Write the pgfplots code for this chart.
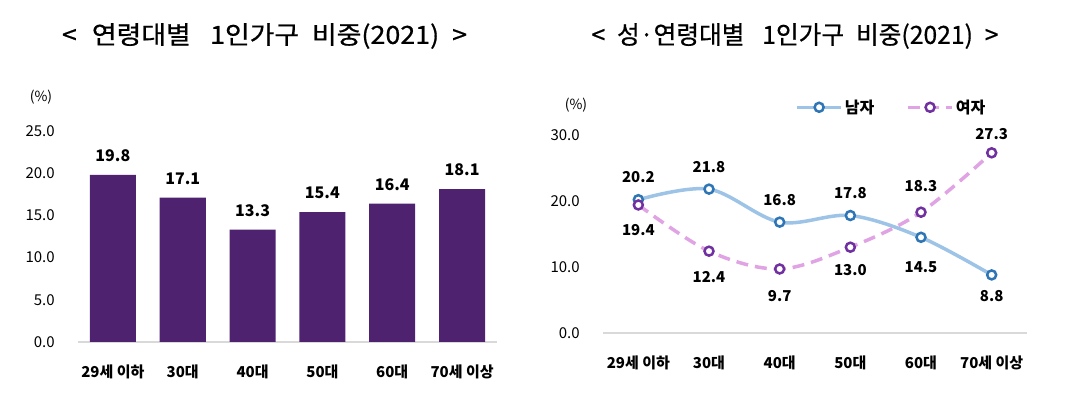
\documentclass[border=0pt]{standalone}
\usepackage{pgfplots}
\pgfplotsset{compat=1.18}
\usepackage{graphicx}
\usepackage{fontspec}
\setmainfont{Noto Sans CJK KR}
\newfontfamily\titlefont[FakeBold=0.6]{Noto Sans CJK KR}
\definecolor{barc}{HTML}{4F2270}
\definecolor{malel}{HTML}{9DC3E6}
\definecolor{malem}{HTML}{2E75B6}
\definecolor{femal}{HTML}{E0A3E3}
\definecolor{femam}{HTML}{7030A0}
\definecolor{axgray}{HTML}{D9D9D9}
\pgfplotsset{
  common/.style={
    scale only axis, anchor=south west, clip=false,
    axis x line=bottom, axis y line=left,
    y axis line style={draw=none},
    x axis line style={-, draw=axgray, line width=1.2pt},
    tick style={draw=none},
    xmin=-0.5, xmax=5.5, ymin=0,
    xtick={0,...,5},
    xticklabels={29세 이하,30대,40대,50대,60대,70세 이상},
    xticklabel style={font=\fontsize{15}{18}\selectfont\bfseries, anchor=base, yshift=-33pt},
    yticklabel style={font=\fontsize{15}{18}\selectfont, anchor=east, inner sep=0pt, xshift=-21pt},
    /pgf/number format/assume math mode=true,
    yticklabel={\pgfmathprintnumber[fixed, fixed zerofill, precision=1]{\tick}},
  }
}
\newcommand{\tfont}{\titlefont\fontsize{25}{29}\selectfont}
\begin{document}
\begin{tikzpicture}
\useasboundingbox (0,0) rectangle (1067pt,395pt);
\node[inner sep=0pt] at (264.5pt,359pt) {\resizebox{405pt}{\height}{\tfont <\hspace{14pt}연령대별\hspace{18pt}1인가구\hspace{12pt}비중(2021)\hspace{12pt}>}};
\node[inner sep=0pt] at (795pt,359pt) {\resizebox{407pt}{\height}{\tfont <\hspace{12pt}성·연령대별\hspace{18pt}1인가구\hspace{12pt}비중(2021)\hspace{12pt}>}};
\node[font=\fontsize{14}{16}\selectfont] at (41pt,298pt) {(\%)};
\node[font=\fontsize{14}{16}\selectfont] at (576pt,290pt) {(\%)};

\begin{axis}[common, at={(78pt,53pt)}, width=419pt, height=211pt,
  ymax=25, ytick={0,5,...,25}]
\addplot[ybar, bar width=46pt, fill=barc, draw=none,
  nodes near coords,
  nodes near coords style={font=\fontsize{16}{18}\selectfont\bfseries, anchor=south, inner sep=0pt, yshift=13pt, text=black,
    /pgf/number format/.cd, fixed, fixed zerofill, precision=1, assume math mode=true}]
  coordinates {(0,19.8) (1,17.1) (2,13.3) (3,15.4) (4,16.4) (5,18.1)};
\end{axis}

\begin{axis}[common, at={(603pt,62pt)}, width=424pt, height=198pt,
  ymax=30, ytick={0,10,20,30},
  legend style={at={(0.68,1.14)}, anchor=center, draw=none, fill=none,
    legend columns=2, font=\fontsize{16}{18}\selectfont\bfseries,
    /tikz/every even column/.append style={column sep=30pt}},
  legend image code/.code={\draw[#1, mark repeat=2, mark phase=2] plot coordinates {(0pt,0pt) (22pt,0pt) (44pt,0pt)};}
  ]
\addplot[smooth, tension=0.55, color=malel, line width=3.5pt,
  mark=*, mark size=4.5pt, mark options={solid, fill=white, draw=malem, line width=2.5pt},
  visualization depends on={value \thisrow{s} \as \lshift},
  nodes near coords,
  nodes near coords style={font=\fontsize{15}{18}\selectfont\bfseries, anchor=center, yshift=\lshift pt, text=black,
    /pgf/number format/.cd, fixed, fixed zerofill, precision=1, assume math mode=true}]
  table {
x y s
0 20.2 23
1 21.8 22
2 16.8 22
3 17.8 22
4 14.5 -30
5 8.8 -21
};
\addlegendentry{남자}
\addplot[smooth, tension=0.55, color=femal, line width=3.5pt, dash pattern=on 12pt off 7pt,
  mark=*, mark size=4.5pt, mark options={solid, fill=white, draw=femam, line width=2.5pt},
  visualization depends on={value \thisrow{s} \as \lshift},
  nodes near coords,
  nodes near coords style={font=\fontsize{15}{18}\selectfont\bfseries, anchor=center, yshift=\lshift pt, text=black,
    /pgf/number format/.cd, fixed, fixed zerofill, precision=1, assume math mode=true}]
  table {
x y s
0 19.4 -25
1 12.4 -26
2 9.7 -27
3 13.0 -23
4 18.3 26
5 27.3 19
};
\addlegendentry{여자}
\end{axis}
\end{tikzpicture}
\end{document}
